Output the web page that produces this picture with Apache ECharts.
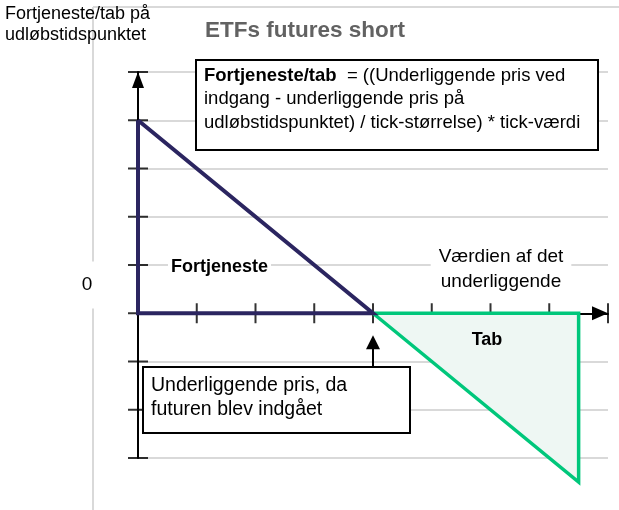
<!DOCTYPE html>
<html>
<head>
<meta charset="utf-8">
<script src="https://cdn.jsdelivr.net/npm/echarts@6/dist/echarts.min.js"></script>
<style>
  html, body { margin: 0; padding: 0; background: #fff; }
  #chart { width: 619px; height: 510px; }
</style>
</head>
<body>
<div id="chart"></div>
<script>
// Payoff at expiry of a short future (x: underlying value, y: profit/loss, in tick units)
const profitX = [0, 4, 0, 0]
const profitY = [4, 0, 0, 4]
const lossFillX = [4, 7.5]
const lossFillY = [0, -3.5]
const lossX = [4, 7.5, 7.5, 4]
const lossY = [0, 0, -3.5, 0]
const xTicks = [1, 2, 3, 4, 5, 6, 7, 8]
const yTicks = [-3, -2, -1, 0, 1, 2, 3, 4, 5]
// arrow pointing at the entry price
const entryArrowX = [4, 4]
const entryArrowY = [-1.15, -0.6]

const FONT = 'Arial, "Liberation Sans", sans-serif'
const zip = (xs, ys) => xs.map((x, i) => [x, ys[i]])

const chart = echarts.init(document.getElementById('chart'))

chart.setOption({
  animation: false,
  grid: { left: 138, right: 11, top: 72, bottom: 52 },
  xAxis: {
    type: 'value', min: 0, max: 8, interval: 1,
    axisLine: {
      onZero: true,
      lineStyle: { color: '#000', width: 2 },
      symbol: ['none', 'triangle'], symbolSize: [14, 16], symbolOffset: [0, -8]
    },
    axisTick: { show: false },
    axisLabel: { show: false },
    splitLine: { show: false }
  },
  yAxis: {
    type: 'value', min: -3, max: 5, interval: 1,
    axisLine: {
      show: true, onZero: true,
      lineStyle: { color: '#000', width: 2 },
      symbol: ['none', 'triangle'], symbolSize: [12, 16], symbolOffset: [0, -8]
    },
    axisTick: { show: false },
    axisLabel: { show: false },
    splitLine: { show: true, lineStyle: { color: '#d9d9d9', width: 2 } }
  },
  series: [
    {
      type: 'scatter', silent: true, z: 1,
      symbol: 'rect', symbolSize: [2, 20],
      itemStyle: { color: '#000' },
      data: xTicks.map(v => [v, 0])
    },
    {
      type: 'scatter', silent: true, z: 1,
      symbol: 'rect', symbolSize: [20, 2],
      itemStyle: { color: '#000' },
      data: yTicks.map(v => [0, v])
    },
    {
      type: 'line', silent: true, z: 2, clip: false,
      showSymbol: false,
      lineStyle: { width: 0 },
      areaStyle: { color: '#eef7f3', opacity: 1 },
      data: zip(lossFillX, lossFillY)
    },
    {
      type: 'line', silent: true, z: 3, clip: false,
      showSymbol: false,
      lineStyle: { color: '#00c77b', width: 3.5, join: 'miter' },
      data: zip(lossX, lossY)
    },
    {
      type: 'line', silent: true, z: 4,
      showSymbol: false,
      lineStyle: { color: '#2b2560', width: 4, join: 'miter' },
      data: zip(profitX, profitY),
      markLine: {
        silent: true,
        symbol: ['none', 'triangle'],
        symbolSize: [14, 14],
        label: { show: false },
        lineStyle: { color: '#000', width: 2, type: 'solid' },
        data: [[
          { coord: [entryArrowX[0], entryArrowY[0]] },
          { coord: [entryArrowX[1], entryArrowY[1]] }
        ]]
      }
    }
  ],
  graphic: [
    // light frame of the plot area
    { type: 'line', z: 0, shape: { x1: 93, y1: 7, x2: 93, y2: 510 }, style: { stroke: '#d9d9d9', lineWidth: 2 } },
    { type: 'line', z: 0, shape: { x1: 93, y1: 7, x2: 619, y2: 7 }, style: { stroke: '#d9d9d9', lineWidth: 2 } },
    {
      type: 'text', z: 100, x: 5, y: 4,
      style: {
        text: 'Fortjeneste/tab på\nudløbstidspunktet',
        fontFamily: FONT, fontSize: 18, lineHeight: 21, fill: '#000'
      }
    },
    {
      type: 'text', z: 100, x: 205, y: 31,
      style: {
        text: 'ETFs futures short', textVerticalAlign: 'middle',
        fontFamily: FONT, fontSize: 22.5, fontWeight: 'bold', fill: '#626262'
      }
    },
    {
      type: 'rect', z: 100,
      shape: { x: 196, y: 60, width: 402, height: 90 },
      style: { fill: '#fff', stroke: '#000', lineWidth: 2 }
    },
    {
      type: 'text', z: 101, x: 204, y: 64,
      style: {
        text: '{b|Fortjeneste/tab}  = ((Underliggende pris ved\nindgang - underliggende pris på\nudløbstidspunktet) / tick-størrelse) * tick-værdi',
        fontFamily: FONT, fontSize: 18.5, lineHeight: 23.5, fill: '#000',
        rich: { b: { fontFamily: FONT, fontSize: 18.5, lineHeight: 23.5, fontWeight: 'bold', fill: '#000' } }
      }
    },
    {
      type: 'text', z: 100, x: 87, y: 285,
      style: {
        text: '0', textAlign: 'center', textVerticalAlign: 'middle',
        fontFamily: FONT, fontSize: 19, fill: '#000',
        backgroundColor: '#fff', padding: [14, 5]
      }
    },
    {
      type: 'text', z: 100, x: 168, y: 267,
      style: {
        text: 'Fortjeneste', textVerticalAlign: 'middle',
        fontFamily: FONT, fontSize: 18, fontWeight: 'bold', fill: '#000',
        backgroundColor: '#fff', padding: [2, 3]
      }
    },
    {
      type: 'text', z: 100, x: 501, y: 244,
      style: {
        text: 'Værdien af det\nunderliggende', textAlign: 'center',
        fontFamily: FONT, fontSize: 19, lineHeight: 25, fill: '#000',
        backgroundColor: '#fff', padding: [0, 8]
      }
    },
    {
      type: 'text', z: 100, x: 487, y: 340,
      style: {
        text: 'Tab', textAlign: 'center', textVerticalAlign: 'middle',
        fontFamily: FONT, fontSize: 18, fontWeight: 'bold', fill: '#000'
      }
    },
    {
      type: 'rect', z: 100,
      shape: { x: 143, y: 367, width: 267, height: 66 },
      style: { fill: '#fff', stroke: '#000', lineWidth: 2 }
    },
    {
      type: 'text', z: 101, x: 151, y: 374,
      style: {
        text: 'Underliggende pris, da\nfuturen blev indgået',
        fontFamily: FONT, fontSize: 19.5, lineHeight: 24, fill: '#000'
      }
    }
  ]
})
</script>
</body>
</html>
